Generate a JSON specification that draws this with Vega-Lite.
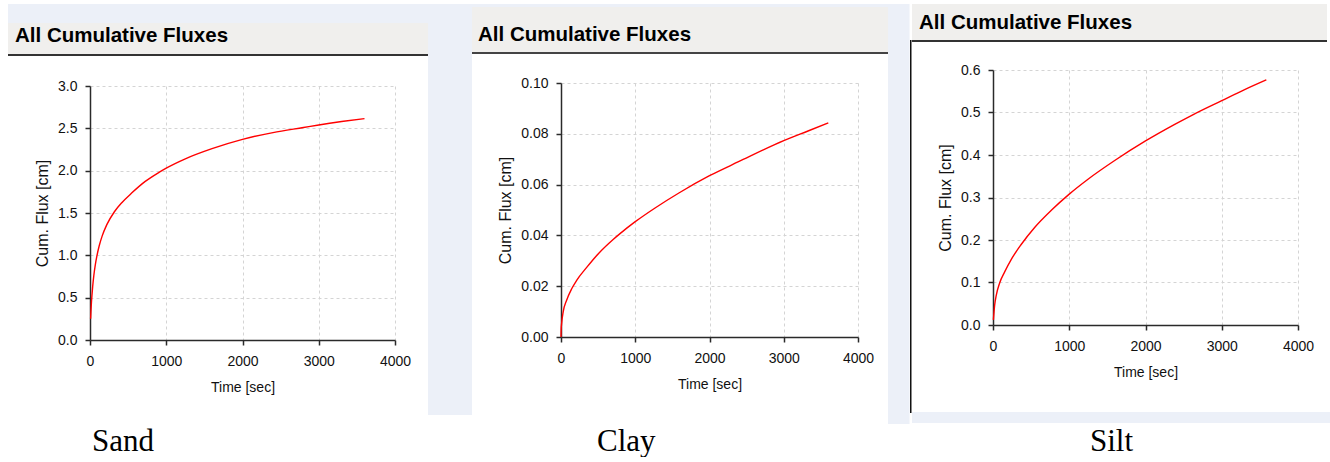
{
  "$schema": "https://vega.github.io/schema/vega-lite/v6.json",
  "background": "#ffffff",
  "padding": {"left": 8, "top": 4, "right": 0, "bottom": 0},
  "datasets": {
    "sand": [
      {"t": 8, "v": 0.25}, {"t": 12, "v": 0.33}, {"t": 18, "v": 0.43}, {"t": 25, "v": 0.52},
      {"t": 35, "v": 0.63}, {"t": 50, "v": 0.76}, {"t": 70, "v": 0.89}, {"t": 90, "v": 0.99},
      {"t": 120, "v": 1.11}, {"t": 160, "v": 1.23}, {"t": 219, "v": 1.36}, {"t": 320, "v": 1.515},
      {"t": 420, "v": 1.625}, {"t": 546, "v": 1.735}, {"t": 720, "v": 1.87}, {"t": 905, "v": 1.98},
      {"t": 1000, "v": 2.03}, {"t": 1250, "v": 2.14}, {"t": 1600, "v": 2.26}, {"t": 2000, "v": 2.37},
      {"t": 2400, "v": 2.45}, {"t": 2800, "v": 2.51}, {"t": 3000, "v": 2.54}, {"t": 3300, "v": 2.58},
      {"t": 3600, "v": 2.615}
    ],
    "clay": [
      {"t": 0, "v": 0}, {"t": 2, "v": 0.003}, {"t": 9, "v": 0.0055}, {"t": 30, "v": 0.0100},
      {"t": 76, "v": 0.0145}, {"t": 144, "v": 0.0190}, {"t": 211, "v": 0.0223}, {"t": 346, "v": 0.0274},
      {"t": 503, "v": 0.0328}, {"t": 706, "v": 0.0385}, {"t": 795, "v": 0.0407}, {"t": 1000, "v": 0.0454},
      {"t": 1267, "v": 0.0508}, {"t": 1582, "v": 0.0566}, {"t": 2000, "v": 0.0635}, {"t": 2391, "v": 0.0690},
      {"t": 3000, "v": 0.0773}, {"t": 3335, "v": 0.0812}, {"t": 3600, "v": 0.0843}
    ],
    "silt": [
      {"t": 5, "v": 0.012}, {"t": 22, "v": 0.047}, {"t": 44, "v": 0.071}, {"t": 87, "v": 0.099},
      {"t": 153, "v": 0.125}, {"t": 240, "v": 0.1545}, {"t": 372, "v": 0.190}, {"t": 546, "v": 0.2295},
      {"t": 765, "v": 0.270}, {"t": 1000, "v": 0.308}, {"t": 1246, "v": 0.343}, {"t": 1596, "v": 0.387},
      {"t": 2000, "v": 0.433}, {"t": 2383, "v": 0.472}, {"t": 2645, "v": 0.497}, {"t": 3000, "v": 0.528},
      {"t": 3300, "v": 0.554}, {"t": 3585, "v": 0.577}
    ]
  },
  "hconcat": [
    {
      "vconcat": [
        {
          "vconcat": [
            {"width": 420, "height": 19, "view": {"fill": "#ecf0f8", "stroke": null}, "data": {"values": []}, "mark": "rect"},
            {"width": 420, "height": 31, "view": {"fill": "#f0efed", "stroke": null}, "data": {"values": []}, "mark": "rect",
             "title": {"text": "All Cumulative Fluxes", "orient": "bottom", "anchor": "start", "offset": -12, "baseline": "alphabetic", "dx": 7}},
            {"width": 420, "height": 2, "view": {"fill": "#333333", "stroke": null}, "data": {"values": []}, "mark": "rect"}
          ],
          "spacing": 0
        },
        {
          "hconcat": [
            {"width": 26, "height": 1, "view": {"stroke": null}, "data": {"values": []}, "mark": "rect"},
            {
              "width": 305, "height": 254,
              "data": {"name": "sand"},
              "mark": {"type": "line", "color": "#ff0000", "strokeWidth": 1.4, "interpolate": "monotone"},
              "encoding": {
                "x": {"field": "t", "type": "quantitative", "scale": {"domain": [0, 4000], "nice": false},
                      "axis": {"values": [0, 1000, 2000, 3000, 4000], "format": "d", "title": "Time [sec]"}},
                "y": {"field": "v", "type": "quantitative", "scale": {"domain": [0, 3], "nice": false},
                      "axis": {"values": [0, 0.5, 1, 1.5, 2, 2.5, 3], "format": ".1f", "title": "Cum. Flux [cm]"}}
              }
            }
          ],
          "spacing": 0
        }
      ],
      "spacing": 23,
      "title": {"text": "Sand", "orient": "bottom", "anchor": "start", "dx": 84, "offset": 57, "font": "Liberation Serif", "fontSize": 31, "fontWeight": "normal", "baseline": "alphabetic"}
    },
    {"width": 44, "height": 411, "view": {"fill": "#ecf0f8", "stroke": null}, "data": {"values": []}, "mark": "rect"},
    {
      "vconcat": [
        {
          "vconcat": [
            {"width": 416, "height": 3, "view": {"fill": "#ecf0f8", "stroke": null}, "data": {"values": []}, "mark": "rect"},
            {"width": 416, "height": 45, "view": {"fill": "#f0efed", "stroke": null}, "data": {"values": []}, "mark": "rect",
             "title": {"text": "All Cumulative Fluxes", "orient": "bottom", "anchor": "start", "offset": -11, "baseline": "alphabetic", "dx": 6}},
            {"width": 416, "height": 2, "view": {"fill": "#444444", "stroke": null}, "data": {"values": []}, "mark": "rect"}
          ],
          "spacing": 0
        },
        {
          "hconcat": [
            {"width": 25, "height": 1, "view": {"stroke": null}, "data": {"values": []}, "mark": "rect"},
            {
              "width": 297, "height": 254,
              "data": {"name": "clay"},
              "mark": {"type": "line", "color": "#ff0000", "strokeWidth": 1.4, "interpolate": "monotone"},
              "encoding": {
                "x": {"field": "t", "type": "quantitative", "scale": {"domain": [0, 4000], "nice": false},
                      "axis": {"values": [0, 1000, 2000, 3000, 4000], "format": "d", "title": "Time [sec]"}},
                "y": {"field": "v", "type": "quantitative", "scale": {"domain": [0, 0.1], "nice": false},
                      "axis": {"values": [0, 0.02, 0.04, 0.06, 0.08, 0.1], "format": ".2f", "title": "Cum. Flux [cm]"}}
              }
            }
          ],
          "spacing": 0
        }
      ],
      "spacing": 22,
      "title": {"text": "Clay", "orient": "bottom", "anchor": "start", "dx": 125, "offset": 60, "font": "Liberation Serif", "fontSize": 31, "fontWeight": "normal", "baseline": "alphabetic"}
    },
    {"width": 21.5, "height": 420, "view": {"fill": "#ecf0f8", "stroke": null}, "data": {"values": []}, "mark": "rect"},
    {
      "vconcat": [
        {"width": 1.5, "height": 36, "view": {"stroke": null}, "data": {"values": []}, "mark": "rect"},
        {"width": 1.5, "height": 373, "view": {"fill": "#111111", "stroke": null}, "data": {"values": []}, "mark": "rect"}
      ],
      "spacing": 0
    },
    {
      "vconcat": [
        {
          "vconcat": [
            {
              "vconcat": [
                {"width": 415, "height": 36, "view": {"fill": "#f0efed", "stroke": null}, "data": {"values": []}, "mark": "rect",
                 "title": {"text": "All Cumulative Fluxes", "orient": "bottom", "anchor": "start", "offset": -11, "baseline": "alphabetic", "dx": 7}},
                {"width": 415, "height": 2, "view": {"fill": "#333333", "stroke": null}, "data": {"values": []}, "mark": "rect"}
              ],
              "spacing": 0
            },
            {
              "hconcat": [
                {"width": 25, "height": 1, "view": {"stroke": null}, "data": {"values": []}, "mark": "rect"},
                {
                  "width": 305, "height": 255,
                  "data": {"name": "silt"},
                  "mark": {"type": "line", "color": "#ff0000", "strokeWidth": 1.4, "interpolate": "monotone"},
                  "encoding": {
                    "x": {"field": "t", "type": "quantitative", "scale": {"domain": [0, 4000], "nice": false},
                          "axis": {"values": [0, 1000, 2000, 3000, 4000], "format": "d", "title": "Time [sec]"}},
                    "y": {"field": "v", "type": "quantitative", "scale": {"domain": [0, 0.6], "nice": false},
                          "axis": {"values": [0, 0.1, 0.2, 0.3, 0.4, 0.5, 0.6], "format": ".1f", "title": "Cum. Flux [cm]"}}
                  }
                }
              ],
              "spacing": 0
            }
          ],
          "spacing": 21
        },
        {"width": 419, "height": 11, "view": {"fill": "#ecf0f8", "stroke": null}, "data": {"values": []}, "mark": "rect"}
      ],
      "spacing": 33,
      "title": {"text": "Silt", "orient": "bottom", "anchor": "start", "dx": 178, "offset": 28, "font": "Liberation Serif", "fontSize": 31, "fontWeight": "normal", "baseline": "alphabetic"}
    }
  ],
  "spacing": 0,
  "config": {
    "view": {"stroke": null},
    "axis": {
      "domainColor": "#2a2a2a", "domainWidth": 1.5,
      "tickColor": "#2a2a2a", "tickWidth": 1.5, "tickSize": 5,
      "gridColor": "#d4d4d4", "gridDash": [3, 3], "gridWidth": 1,
      "labelFont": "Liberation Sans", "labelFontSize": 14, "labelColor": "#111111", "labelPadding": 8, "labelFlush": false,
      "titleFont": "Liberation Sans", "titleFontSize": 14, "titleFontWeight": "normal", "titleColor": "#111111", "titlePadding": 12
    },
    "axisX": {"labelPadding": 9},
    "axisY": {"titleFontSize": 16, "titlePadding": 7},
    "title": {"font": "Liberation Sans", "fontSize": 20.5, "fontWeight": "bold", "color": "#000000"}
  }
}
